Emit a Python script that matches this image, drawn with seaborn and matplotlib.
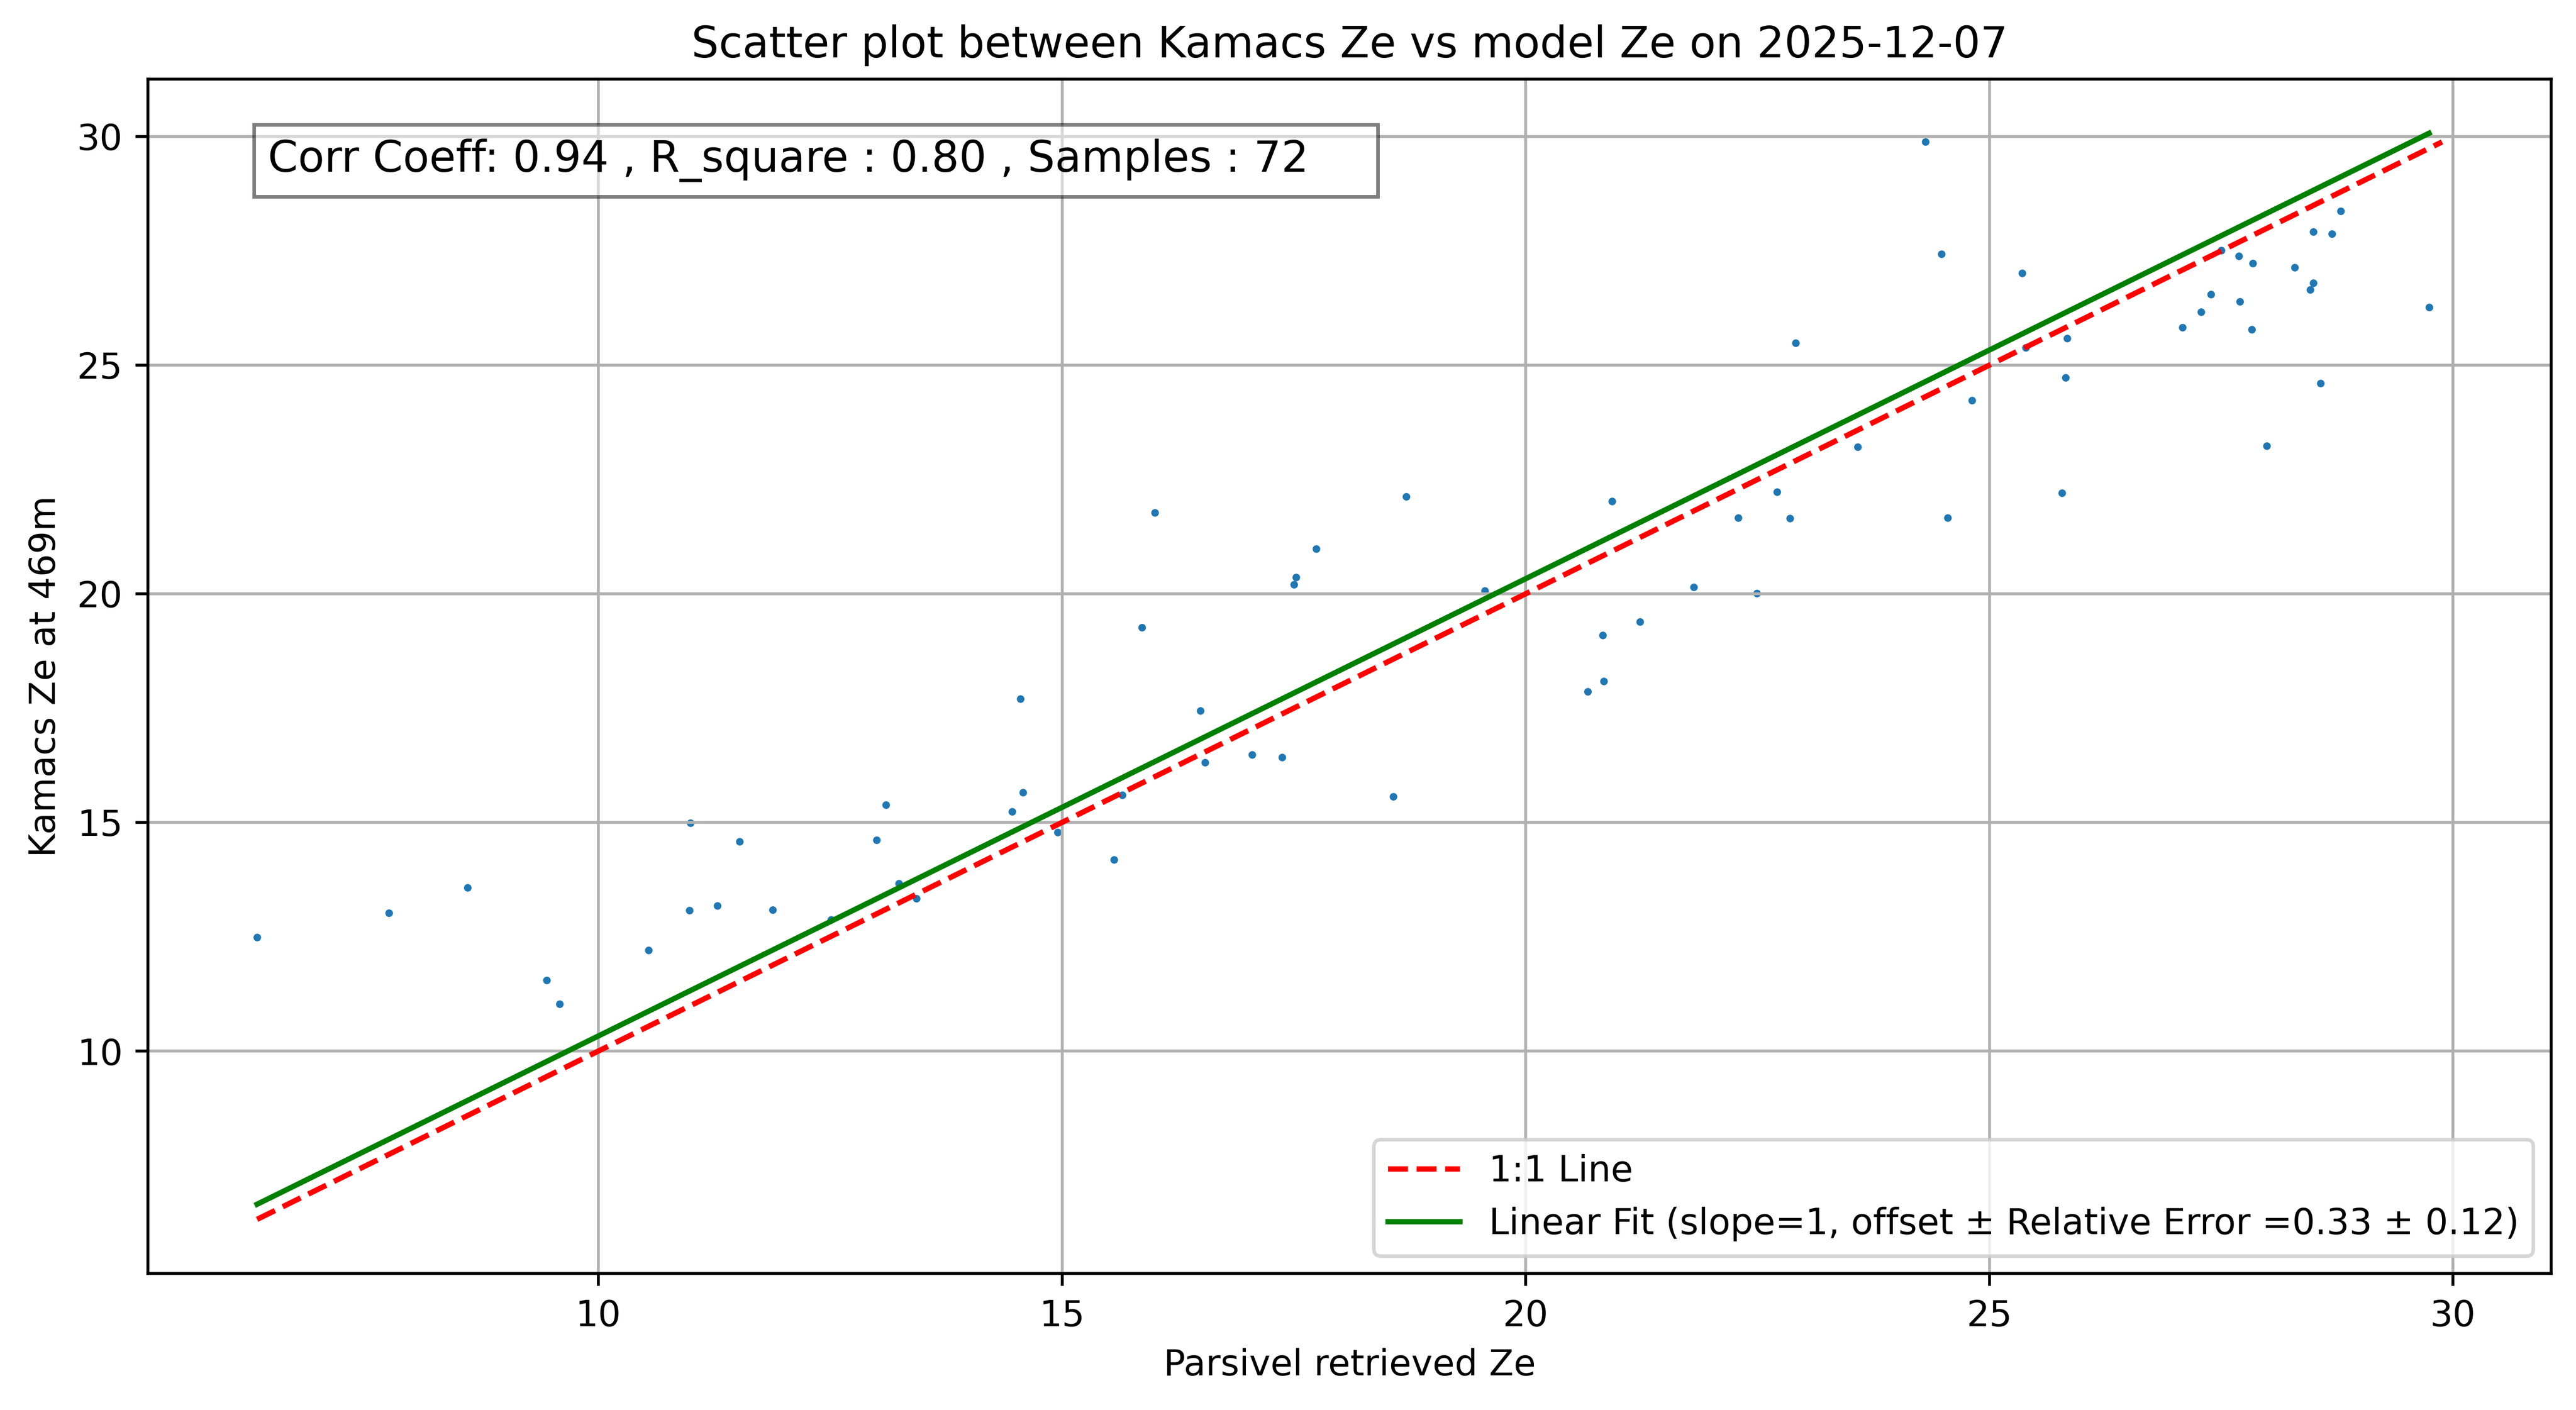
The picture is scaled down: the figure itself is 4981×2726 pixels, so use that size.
import numpy as np
import pandas as pd
import seaborn as sns
import matplotlib
matplotlib.use('Agg')
import matplotlib.pyplot as plt

# значения
parsivel_ze = [6.32, 7.74, 8.59, 9.44, 9.58, 10.54, 10.99, 10.98, 11.28, 11.52,
               11.88, 12.51, 13.00, 13.10, 13.24, 13.43, 14.46, 14.55, 14.58, 14.95,
               15.56, 15.65, 15.86, 16.00, 16.49, 16.54, 17.05, 17.37, 17.50, 17.52,
               17.74, 18.57, 18.71, 19.56, 20.67, 20.83, 20.84, 20.93, 21.23, 21.81,
               22.29, 22.49, 22.71, 22.85, 22.91, 23.58, 24.31, 24.48, 24.55, 24.81,
               25.35, 25.39, 25.78, 25.82, 25.84, 27.08, 27.28, 27.39, 27.50, 27.69,
               27.70, 27.83, 27.84, 27.99, 28.29, 28.46, 28.49, 28.49, 28.57, 28.69,
               28.79, 29.74]
kamacs_ze = [12.49, 13.02, 13.58, 11.55, 11.03, 12.21, 14.99, 13.08, 13.18, 14.58,
             13.09, 12.87, 14.62, 15.39, 13.66, 13.34, 15.24, 17.70, 15.66, 14.78,
             14.18, 15.60, 19.26, 21.77, 17.44, 16.31, 16.48, 16.43, 20.20, 20.36,
             20.98, 15.56, 22.13, 20.07, 17.86, 19.09, 18.09, 22.02, 19.39, 20.15,
             21.66, 20.01, 22.23, 21.65, 25.48, 23.21, 29.88, 27.43, 21.66, 24.23,
             27.01, 25.38, 22.21, 24.73, 25.59, 25.83, 26.16, 26.55, 27.51, 27.38,
             26.39, 25.78, 27.23, 23.23, 27.14, 26.65, 27.92, 26.80, 24.60, 27.87,
             28.37, 26.26]

offset = 0.33
offset_err = 0.12
corr_coeff = 0.94
r_square = 0.80
day = '2025-12-07'

df = pd.DataFrame({'parsivel': parsivel_ze, 'kamacs': kamacs_ze})

fig = plt.figure(figsize=(4981 / 500, 2726 / 500), dpi=500)
ax = fig.add_axes([0.0574, 0.0967, 0.933, 0.8473])

sns.scatterplot(data=df, x='parsivel', y='kamacs', s=4.5, linewidth=0, ax=ax)

lo = min(df['parsivel'].min(), df['kamacs'].min())
hi = max(df['parsivel'].max(), df['kamacs'].max())
ax.plot([lo, hi], [lo, hi], 'r--', label='1:1 Line')

xfit = np.array([df['parsivel'].min(), df['parsivel'].max()])
ax.plot(xfit, xfit + offset, color='green',
        label=f'Linear Fit (slope=1, offset ± Relative Error ={offset:.2f} ± {offset_err:.2f})')

ax.text(0.05, 0.95, f'Corr Coeff: {corr_coeff:.2f} , R_square : {r_square:.2f} , Samples : {len(df)}    ',
        transform=ax.transAxes, fontsize=12, verticalalignment='top',
        bbox=dict(facecolor='white', alpha=0.5))

ax.set_title(f'Scatter plot between Kamacs Ze vs model Ze on {day}')
ax.set_xlabel('Parsivel retrieved Ze')
ax.set_ylabel('Kamacs Ze at 469m')
ax.legend(loc='lower right')
ax.grid(True)

fig.savefig('out.png', dpi=500)
